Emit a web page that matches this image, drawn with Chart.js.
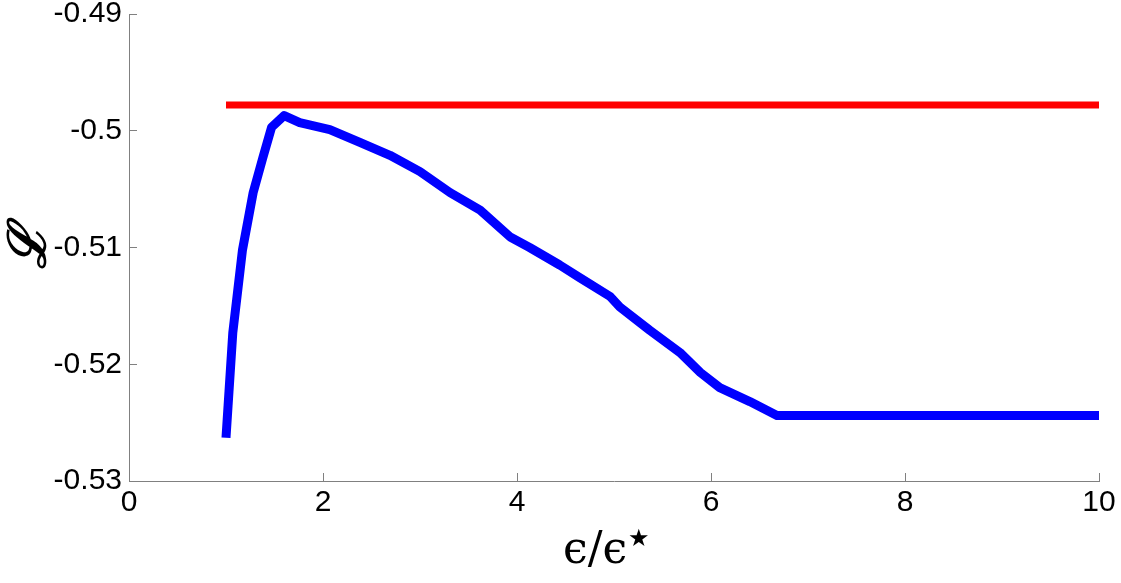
<!DOCTYPE html>
<html>
<head>
<meta charset="utf-8">
<script src="https://cdn.jsdelivr.net/npm/chart.js@4"></script>
<style>
  body { margin: 0; background: #fff; }
  #wrap { width: 1121px; height: 583px; position: relative; }
</style>
</head>
<body>
<div id="wrap"><canvas id="chart"></canvas></div>
<script>
// data
const epsRatio = [1.0, 1.07, 1.17, 1.28, 1.38, 1.47, 1.6, 1.76, 2.07, 2.38, 2.69, 3.0, 3.31, 3.62, 3.93, 4.13, 4.44, 4.65, 4.96, 5.06, 5.37, 5.68, 5.89, 6.09, 6.4, 6.68, 7.0, 7.5, 8.0, 8.5, 9.0, 9.5, 10.0];
const lagrangian = [-0.5263, -0.5173, -0.5102, -0.5053, -0.5023, -0.4997, -0.4987, -0.4993, -0.4999, -0.5010, -0.5021, -0.5035, -0.5053, -0.5068, -0.5091, -0.5100, -0.5115, -0.5126, -0.5142, -0.5151, -0.5171, -0.5190, -0.5207, -0.5220, -0.5232, -0.5244, -0.5244, -0.5244, -0.5244, -0.5244, -0.5244, -0.5244, -0.5244];
const boundX = [1, 10];
const boundY = [-0.4978, -0.4978];
const xTicks = [0, 2, 4, 6, 8, 10];
const yTicks = [-0.53, -0.52, -0.51, -0.5, -0.49];

const tickFont = { family: 'Liberation Sans, Arial, sans-serif', size: 30 };

// x label with superscript star
const xLabel = {
  id: 'xLabel',
  afterDraw(chart) {
    const ctx = chart.ctx;
    const y = 563;
    ctx.save();
    ctx.fillStyle = '#000';
    ctx.textBaseline = 'alphabetic';
    ctx.textAlign = 'left';
    ctx.font = '44px "DejaVu Serif"';
    const main = 'ϵ/ϵ';
    const w = ctx.measureText(main).width;
    const x0 = 563;
    ctx.fillText(main, x0, y);
    ctx.font = '24px "DejaVu Sans"';
    ctx.fillText('★', x0 + w + 1, y - 17);
    ctx.restore();
  }
};

const data = {
  datasets: [
    {
      data: boundX.map((x, i) => ({ x: x, y: boundY[i] })),
      borderColor: '#ff0000',
      borderWidth: 7,
      pointRadius: 0,
      borderCapStyle: 'butt'
    },
    {
      data: epsRatio.map((x, i) => ({ x: x, y: lagrangian[i] })),
      borderColor: '#0000ff',
      borderWidth: 9,
      pointRadius: 0,
      borderJoinStyle: 'round',
      borderCapStyle: 'butt'
    }
  ]
};

const options = {
  responsive: true,
  maintainAspectRatio: false,
  animation: false,
  layout: { padding: { top: 14, right: 22, left: 0, bottom: 0 } },
  plugins: {
    legend: { display: false },
    tooltip: { enabled: false }
  },
  scales: {
    x: {
      type: 'linear',
      min: 0,
      max: 10,
      afterBuildTicks: s => { s.ticks = xTicks.map(v => ({ value: v })); },
      ticks: { font: tickFont, color: '#000', padding: 12, maxRotation: 0, callback: v => String(v) },
      grid: { drawOnChartArea: false, tickLength: -8, color: '#808080', lineWidth: 1 },
      border: { color: '#808080', width: 1 },
      afterFit: s => { s.height = 102; s.paddingLeft = 0; s.paddingRight = 0; }
    },
    y: {
      min: -0.53,
      max: -0.49,
      afterBuildTicks: s => { s.ticks = yTicks.map(v => ({ value: v })); },
      ticks: { font: tickFont, color: '#000', padding: 15, callback: v => String(+v.toFixed(2)) },
      grid: { drawOnChartArea: false, tickLength: -8, color: '#808080', lineWidth: 1 },
      border: { color: '#808080', width: 1 },
      title: {
        display: true,
        text: 'ℒ',
        color: '#000',
        font: { family: 'DejaVu Serif', size: 52, weight: 'bold', style: 'italic' },
        padding: 0
      },
      afterFit: s => { s.width = 129; s.paddingTop = 0; s.paddingBottom = 0; }
    }
  }
};

new Chart(document.getElementById('chart'), {
  type: 'line',
  data: data,
  options: options,
  plugins: [xLabel]
});
</script>
</body>
</html>
